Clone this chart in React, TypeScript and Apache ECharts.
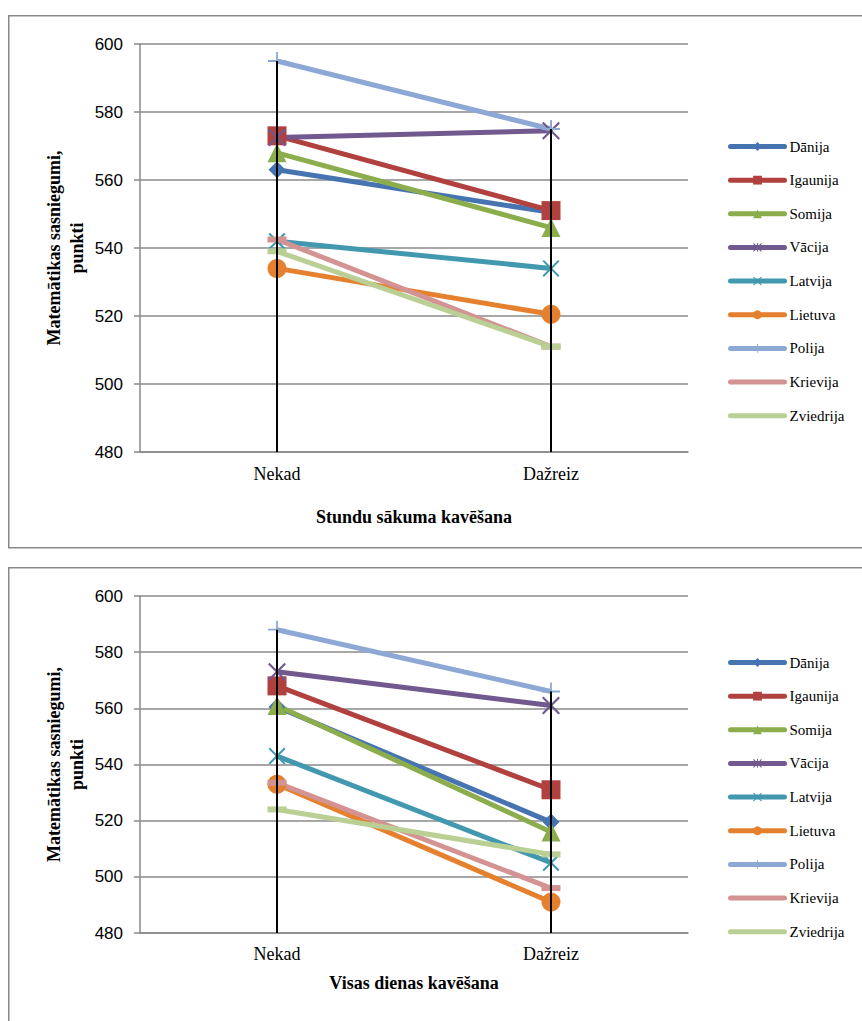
import React, { useEffect, useRef } from "react";
import * as echarts from "echarts";

// Categories on the x axis
const CATEGORIES = ["Nekad", "Dažreiz"];

// Countries (series), in drawing order
const COUNTRIES = [
  "Dānija",
  "Igaunija",
  "Somija",
  "Vācija",
  "Latvija",
  "Lietuva",
  "Polija",
  "Krievija",
  "Zviedrija",
];

// Y axis scale
const Y_MIN = 480;
const Y_MAX = 600;
const Y_STEP = 20;

// Chart 1: "Stundu sākuma kavēšana" — mean score per country
const lateStartNekad = [563, 573, 568, 572.5, 542, 534, 595, 542.5, 539];
const lateStartDazreiz = [550.5, 551, 546, 574.5, 534, 520.5, 575, 511, 511];

// Chart 2: "Visas dienas kavēšana" — mean score per country
const wholeDayNekad = [560.5, 568, 561, 573, 543, 533, 588, 533.5, 524];
const wholeDayDazreiz = [519.5, 531, 516, 561, 505, 491, 566, 496, 508];

const COLORS = [
  "#4674B1",
  "#B0413E",
  "#8BAD4B",
  "#71588F",
  "#4198AF",
  "#E5802F",
  "#8EA8D5",
  "#D39392",
  "#B9CF94",
];

const X_PATH =
  "path://M1.7,0 L10,8.3 L18.3,0 L20,1.7 L11.7,10 L20,18.3 L18.3,20 L10,11.7 L1.7,20 L0,18.3 L8.3,10 L0,1.7 Z";
const STAR_PATH = X_PATH + " M9,0 L11,0 L11,20 L9,20 Z";
const PLUS_PATH =
  "path://M9,0 L11,0 L11,9 L20,9 L20,11 L11,11 L11,20 L9,20 L9,11 L0,11 L0,9 L9,9 Z";

// Marker per country; the last two are short dashes
const SYMBOLS: { symbol: string; size: number | number[]; dash?: boolean }[] = [
  { symbol: "diamond", size: 17 },
  { symbol: "rect", size: 19 },
  { symbol: "triangle", size: 19 },
  { symbol: STAR_PATH, size: 18 },
  { symbol: X_PATH, size: 17 },
  { symbol: "circle", size: 19 },
  { symbol: PLUS_PATH, size: 18 },
  { symbol: "rect", size: [19, 6], dash: true },
  { symbol: "rect", size: [19, 6], dash: true },
];

const SERIF = "'Liberation Serif', 'Times New Roman', serif";
const SANS = "'Liberation Sans', Arial, sans-serif";
const GRID_GRAY = "#8a8a8a";

type Panel = {
  top: number;
  height: number;
  nekad: number[];
  dazreiz: number[];
  title: string;
  titleY: number;
  legendTop: number;
  frameY: number;
  frameH: number;
  labelMargin: number;
};

const PANELS: Panel[] = [
  {
    top: 44,
    height: 408,
    nekad: lateStartNekad,
    dazreiz: lateStartDazreiz,
    title: "Stundu sākuma kavēšana",
    titleY: 517,
    legendTop: 139,
    frameY: 15,
    frameH: 532,
    labelMargin: 13,
  },
  {
    top: 596,
    height: 337,
    nekad: wholeDayNekad,
    dazreiz: wholeDayDazreiz,
    title: "Visas dienas kavēšana",
    titleY: 983,
    legendTop: 655,
    frameY: 567,
    frameH: 500,
    labelMargin: 12,
  },
];

const GRID_LEFT = 140;
const GRID_WIDTH = 548;

function buildOption() {
  const grid: any[] = [];
  const xAxis: any[] = [];
  const yAxis: any[] = [];
  const series: any[] = [];
  const legend: any[] = [];
  const graphic: any[] = [];

  PANELS.forEach((p, pi) => {
    grid.push({ left: GRID_LEFT, top: p.top, width: GRID_WIDTH, height: p.height });
    xAxis.push({
      type: "category",
      gridIndex: pi,
      data: CATEGORIES,
      boundaryGap: true,
      axisLine: { show: true, lineStyle: { color: GRID_GRAY, width: 1.5 } },
      axisTick: { show: false },
      axisLabel: {
        color: "#000",
        fontFamily: SERIF,
        fontSize: 18,
        margin: p.labelMargin,
      },
      splitLine: { show: false },
    });
    yAxis.push({
      type: "value",
      gridIndex: pi,
      min: Y_MIN,
      max: Y_MAX,
      interval: Y_STEP,
      axisLine: { show: true, lineStyle: { color: GRID_GRAY, width: 1.5 } },
      axisTick: { show: true, length: 6, lineStyle: { color: GRID_GRAY, width: 1.5 } },
      axisLabel: { color: "#000", fontFamily: SANS, fontSize: 17, margin: 17 },
      splitLine: { show: true, lineStyle: { color: GRID_GRAY, width: 1.5 } },
    });

    COUNTRIES.forEach((name, i) => {
      series.push({
        name,
        type: "line",
        xAxisIndex: pi,
        yAxisIndex: pi,
        data: [p.nekad[i], p.dazreiz[i]],
        symbol: SYMBOLS[i].symbol,
        symbolSize: SYMBOLS[i].size,
        showAllSymbol: true,
        color: COLORS[i],
        itemStyle: { color: COLORS[i], borderWidth: 0 },
        lineStyle: { color: COLORS[i], width: 5 },
        emphasis: { disabled: true },
        silent: true,
      });
    });

    // Drop lines from the highest value of each category down to the axis
    const peaks = CATEGORIES.map((_, ci) =>
      Math.max(...(ci === 0 ? p.nekad : p.dazreiz))
    );
    series.push({
      type: "custom",
      name: "drop" + pi,
      xAxisIndex: pi,
      yAxisIndex: pi,
      z: 10,
      silent: true,
      data: peaks.map((v, ci) => [ci, v]),
      encode: { x: 0, y: 1 },
      renderItem: (_params: any, api: any) => {
        const top = api.coord([api.value(0), api.value(1)]);
        const bottom = api.coord([api.value(0), Y_MIN]);
        return {
          type: "line",
          shape: { x1: top[0], y1: top[1], x2: bottom[0], y2: bottom[1] },
          style: { stroke: "#000", lineWidth: 2 },
        };
      },
    });

    legend.push({
      orient: "vertical",
      left: 728,
      top: p.legendTop,
      padding: 0,
      itemWidth: 54,
      itemHeight: 11,
      itemGap: 18.65,
      selectedMode: false,
      lineStyle: { width: 5, cap: "round" },
      data: COUNTRIES.map((name, i) =>
        SYMBOLS[i].dash ? { name, itemStyle: { opacity: 0 } } : { name }
      ),
      textStyle: { color: "#000", fontFamily: SERIF, fontSize: 15 },
    });

    graphic.push({
      type: "rect",
      left: 8,
      top: p.frameY,
      z: -1,
      shape: { x: 0, y: 0, width: 880, height: p.frameH },
      style: { fill: "#fff", stroke: "#888", lineWidth: 1.5 },
    });
    graphic.push({
      type: "text",
      x: GRID_LEFT + GRID_WIDTH / 2,
      y: p.titleY,
      style: {
        text: p.title,
        fill: "#000",
        font: `bold 18px ${SERIF}`,
        textAlign: "center",
        textVerticalAlign: "middle",
      },
    });
    graphic.push({
      type: "text",
      x: 65,
      y: p.top + p.height / 2,
      rotation: Math.PI / 2,
      style: {
        text: "Matemātikas sasniegumi,\npunkti",
        fill: "#000",
        font: `bold 18px ${SERIF}`,
        lineHeight: 23,
        textAlign: "center",
        textVerticalAlign: "middle",
      },
    });
  });

  return {
    animation: false,
    backgroundColor: "#fff",
    grid,
    xAxis,
    yAxis,
    legend,
    series,
    graphic,
  };
}

export default function App() {
  const ref = useRef<HTMLDivElement>(null);

  useEffect(() => {
    if (!ref.current) return;
    const chart = echarts.init(ref.current, null, { renderer: "svg" });
    chart.setOption(buildOption() as any);
    return () => chart.dispose();
  }, []);

  return (
    <div
      ref={ref}
      style={{ position: "absolute", left: 0, top: 0, width: 862, height: 1021 }}
    />
  );
}
